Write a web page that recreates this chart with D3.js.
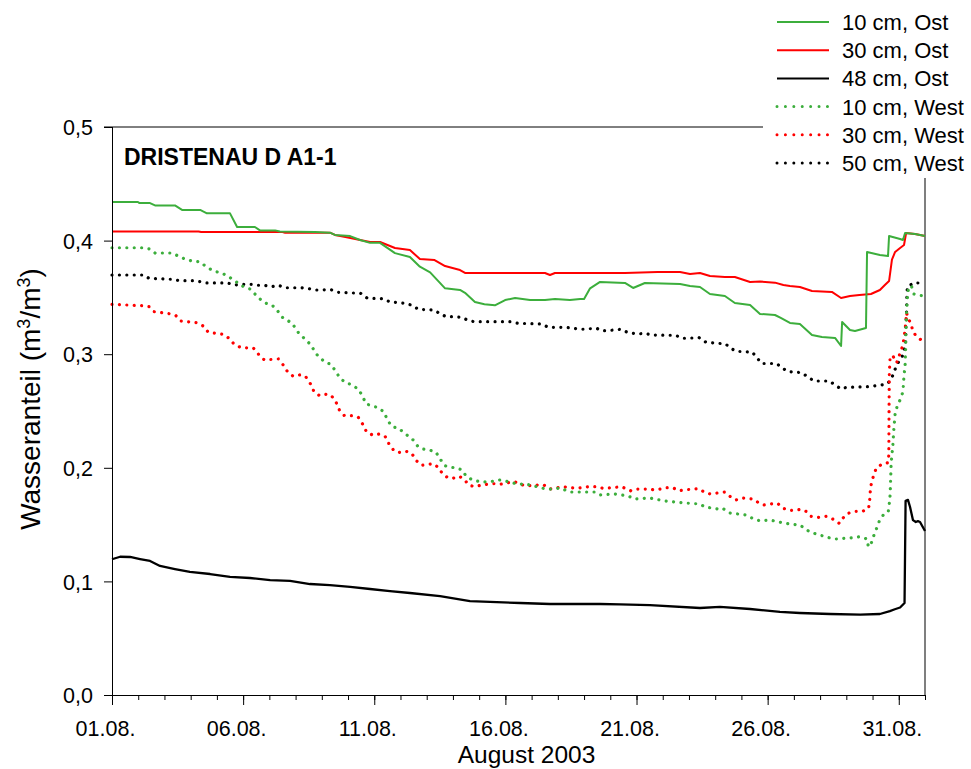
<!DOCTYPE html>
<meta charset="utf-8">
<script src="https://cdn.jsdelivr.net/npm/d3@7"></script>
<style>
  body { margin: 0; background: #fff; }
  text { font-family: Arial, "Liberation Sans", sans-serif; fill: #000; }
</style>
<body>
<div id="chart"></div>
<script>
// time: day of August 2003 (1 = 01.08. 00:00), value: water content (m3/m3)
var ost10Day = [1.00, 1.99, 2.05, 2.45, 2.64, 3.40, 3.67, 4.36, 4.62, 5.50, 5.77, 6.45, 6.64, 7.22, 7.40, 8.74, 9.31, 9.50, 10.08, 10.46, 10.84, 11.22, 11.79, 12.36, 12.74, 13.13, 13.70, 14.27, 14.46, 14.84, 15.20, 15.60, 15.99, 16.37, 16.94, 17.51, 17.89, 18.46, 18.85, 19.00, 19.23, 19.61, 20.56, 20.87, 21.32, 22.66, 23.04, 23.42, 23.80, 24.37, 24.75, 25.33, 25.71, 26.28, 26.50, 26.85, 27.23, 27.69, 28.07, 28.57, 28.80, 28.84, 29.14, 29.33, 29.75, 29.79, 30.28, 30.59, 30.63, 31.05, 31.16, 31.24, 31.62, 32.00];
var ost10Val = [0.434, 0.434, 0.433, 0.433, 0.431, 0.431, 0.427, 0.427, 0.424, 0.424, 0.412, 0.412, 0.409, 0.409, 0.408, 0.4075, 0.407, 0.405, 0.404, 0.4005, 0.398, 0.398, 0.389, 0.3856, 0.377, 0.372, 0.358, 0.3566, 0.354, 0.346, 0.344, 0.343, 0.3477, 0.3495, 0.3477, 0.3477, 0.3486, 0.3477, 0.3486, 0.3486, 0.358, 0.3636, 0.3627, 0.3583, 0.3627, 0.3618, 0.360, 0.3592, 0.353, 0.3512, 0.3451, 0.3433, 0.3354, 0.3345, 0.3319, 0.3275, 0.3266, 0.3169, 0.3151, 0.3143, 0.3072, 0.3283, 0.3213, 0.3204, 0.3231, 0.390, 0.3873, 0.3864, 0.404, 0.4014, 0.4005, 0.4067, 0.4058, 0.404];

var ost30Day = [1.00, 4.30, 4.40, 7.50, 7.60, 9.31, 9.50, 9.90, 10.46, 10.84, 11.22, 11.79, 12.36, 12.74, 13.30, 13.70, 14.27, 14.46, 15.99, 17.51, 17.70, 17.89, 19.61, 20.56, 21.80, 22.66, 23.04, 23.42, 23.80, 24.37, 24.75, 25.33, 25.71, 26.28, 26.60, 26.85, 27.23, 27.69, 28.45, 28.80, 29.14, 29.50, 29.94, 30.28, 30.47, 30.63, 30.74, 30.86, 31.05, 31.20, 31.28, 31.62, 32.00];
var ost30Val = [0.408, 0.408, 0.4075, 0.4075, 0.407, 0.407, 0.405, 0.4032, 0.4005, 0.3988, 0.3988, 0.3935, 0.3917, 0.3838, 0.3829, 0.3776, 0.3741, 0.3715, 0.3715, 0.3715, 0.3697, 0.3715, 0.3715, 0.3715, 0.3724, 0.3724, 0.3706, 0.3715, 0.3688, 0.368, 0.368, 0.3636, 0.364, 0.363, 0.3609, 0.360, 0.3592, 0.3556, 0.3548, 0.3495, 0.3512, 0.3521, 0.353, 0.3565, 0.3609, 0.3644, 0.3832, 0.390, 0.3935, 0.3961, 0.4067, 0.4058, 0.404];

var ost48Day = [1.00, 1.31, 1.69, 2.07, 2.45, 2.83, 3.40, 3.97, 4.74, 5.50, 6.26, 7.03, 7.79, 8.55, 9.31, 10.08, 10.84, 11.60, 12.36, 13.51, 14.65, 15.41, 16.56, 17.70, 19.61, 20.37, 21.51, 23.42, 24.18, 25.33, 26.47, 27.23, 28.38, 29.53, 30.28, 30.66, 30.85, 31.05, 31.22, 31.26, 31.35, 31.43, 31.54, 31.65, 31.73, 31.81, 32.00];
var ost48Val = [0.1195, 0.1217, 0.1215, 0.1197, 0.118, 0.1136, 0.1109, 0.1083, 0.1065, 0.1039, 0.103, 0.1012, 0.1004, 0.0977, 0.0968, 0.0951, 0.0933, 0.0915, 0.0898, 0.0871, 0.0827, 0.0819, 0.081, 0.0801, 0.0801, 0.0797, 0.0792, 0.0766, 0.0775, 0.0757, 0.0731, 0.0722, 0.0713, 0.0708, 0.0713, 0.0739, 0.0755, 0.077, 0.081, 0.171, 0.1717, 0.1655, 0.154, 0.1523, 0.153, 0.1523, 0.1444];

var west10Day = [1.00, 2.14, 2.45, 2.64, 3.29, 3.52, 3.78, 4.05, 4.36, 4.55, 4.81, 5.12, 5.35, 5.58, 5.80, 6.03, 6.26, 6.45, 6.64, 6.83, 7.10, 7.29, 7.52, 7.86, 8.09, 8.28, 8.55, 8.85, 9.12, 9.31, 9.50, 9.69, 9.88, 10.15, 10.38, 10.53, 10.69, 10.95, 11.18, 11.37, 11.52, 11.71, 11.91, 12.48, 12.67, 12.86, 13.09, 13.35, 13.51, 13.70, 13.85, 14.15, 14.35, 14.50, 14.73, 14.92, 15.11, 15.38, 15.60, 15.79, 16.18, 16.44, 16.75, 16.94, 17.55, 17.78, 18.08, 18.46, 18.85, 19.42, 19.61, 20.18, 20.68, 20.94, 21.51, 21.70, 22.09, 22.85, 23.42, 23.61, 24.11, 24.26, 24.57, 24.87, 25.17, 25.40, 25.71, 26.09, 26.43, 26.85, 27.23, 27.61, 27.99, 28.38, 28.61, 29.14, 29.52, 29.79, 29.84, 29.93, 30.03, 30.13, 30.25, 30.41, 30.60, 30.64, 30.67, 30.69, 30.71, 30.77, 30.81, 30.86, 30.94, 31.07, 31.16, 31.20, 31.24, 31.26, 31.27, 31.30, 31.34, 31.39, 31.49, 31.58, 31.81, 32.00];
var west10Val = [0.3937, 0.3937, 0.3926, 0.3891, 0.3891, 0.3865, 0.3838, 0.382, 0.3812, 0.3777, 0.3741, 0.3715, 0.3697, 0.3662, 0.3627, 0.3592, 0.3574, 0.353, 0.3486, 0.3451, 0.3433, 0.3389, 0.3319, 0.3275, 0.3195, 0.3151, 0.309, 0.2984, 0.2931, 0.2914, 0.2861, 0.279, 0.2755, 0.2729, 0.2694, 0.2641, 0.2562, 0.2544, 0.2526, 0.2491, 0.2412, 0.2359, 0.235, 0.2245, 0.2186, 0.2165, 0.2157, 0.2139, 0.2077, 0.2018, 0.2007, 0.1998, 0.1981, 0.1928, 0.1895, 0.1884, 0.1875, 0.1878, 0.1884, 0.1893, 0.1875, 0.1857, 0.1857, 0.1849, 0.1813, 0.1813, 0.1822, 0.1787, 0.1787, 0.1787, 0.1761, 0.1769, 0.1752, 0.1725, 0.1734, 0.1725, 0.1708, 0.169, 0.1681, 0.1655, 0.1637, 0.1646, 0.1602, 0.1593, 0.1585, 0.1558, 0.1532, 0.154, 0.1523, 0.1505, 0.1496, 0.1435, 0.1408, 0.1382, 0.1373, 0.1382, 0.1393, 0.1373, 0.1305, 0.132, 0.1393, 0.1452, 0.1526, 0.1585, 0.1614, 0.1688, 0.1761, 0.1899, 0.2045, 0.2186, 0.2333, 0.2471, 0.2544, 0.2608, 0.267, 0.2817, 0.289, 0.3031, 0.3169, 0.3389, 0.3536, 0.360, 0.3594, 0.353, 0.3518, 0.3512];

var west30Day = [1.00, 2.13, 2.42, 2.61, 3.17, 3.44, 3.64, 4.24, 4.48, 4.67, 5.24, 5.46, 5.66, 5.93, 6.39, 6.59, 6.81, 7.34, 7.53, 7.70, 7.91, 8.21, 8.40, 8.58, 8.71, 8.92, 9.13, 9.35, 9.54, 9.67, 9.86, 10.16, 10.39, 10.58, 10.71, 10.96, 11.19, 11.42, 11.57, 11.76, 11.95, 12.21, 12.43, 12.59, 12.81, 13.25, 13.44, 13.61, 13.82, 14.01, 14.24, 14.42, 14.62, 14.84, 15.06, 15.31, 15.58, 15.79, 16.05, 16.34, 16.56, 16.77, 17.03, 17.45, 17.70, 17.98, 18.19, 18.46, 18.74, 19.19, 19.50, 19.71, 20.11, 20.42, 20.63, 20.78, 21.01, 21.51, 21.68, 21.90, 22.12, 22.38, 22.63, 22.88, 23.37, 23.58, 23.81, 24.07, 24.36, 24.58, 24.79, 25.05, 25.45, 25.68, 25.87, 26.09, 26.37, 26.60, 26.81, 27.05, 27.26, 27.46, 27.65, 27.95, 28.25, 28.50, 28.73, 28.86, 29.07, 29.36, 29.62, 29.85, 29.89, 29.91, 29.95, 30.03, 30.14, 30.36, 30.59, 30.62, 30.63, 30.64, 30.67, 30.77, 30.92, 31.16, 31.24, 31.30, 31.34, 31.47, 31.53, 31.68, 31.86, 32.00];
var west30Val = [0.3439, 0.3427, 0.3418, 0.3374, 0.3357, 0.3339, 0.3292, 0.3277, 0.3248, 0.3193, 0.3175, 0.314, 0.3087, 0.3057, 0.3055, 0.2999, 0.2949, 0.2958, 0.2905, 0.2843, 0.2805, 0.282, 0.2797, 0.2735, 0.2667, 0.2635, 0.2647, 0.2641, 0.2579, 0.2509, 0.2459, 0.2459, 0.2445, 0.2377, 0.2313, 0.2286, 0.2298, 0.2274, 0.2207, 0.2148, 0.2136, 0.2145, 0.2128, 0.2066, 0.2022, 0.2036, 0.2004, 0.1945, 0.191, 0.1908, 0.1925, 0.1899, 0.1846, 0.1834, 0.1846, 0.1855, 0.186, 0.1855, 0.1866, 0.1878, 0.1857, 0.184, 0.1846, 0.1851, 0.1813, 0.1825, 0.1834, 0.1825, 0.182, 0.1834, 0.1834, 0.182, 0.1825, 0.1834, 0.1813, 0.1798, 0.1813, 0.1813, 0.1805, 0.1813, 0.1825, 0.1825, 0.1798, 0.1807, 0.1816, 0.1787, 0.1769, 0.1778, 0.1787, 0.1746, 0.1717, 0.1734, 0.1725, 0.1688, 0.1673, 0.1681, 0.1688, 0.1643, 0.1626, 0.1626, 0.1635, 0.1617, 0.1573, 0.1564, 0.1573, 0.1547, 0.1511, 0.1555, 0.160, 0.1617, 0.1617, 0.1643, 0.1714, 0.1784, 0.1855, 0.1925, 0.1996, 0.2033, 0.2045, 0.2113, 0.2544, 0.2832, 0.2978, 0.2987, 0.2925, 0.3081, 0.3213, 0.3365, 0.3316, 0.3272, 0.3204, 0.3154, 0.3125, 0.3116];

var west50Day = [1.00, 2.22, 2.41, 3.30, 3.59, 4.08, 4.38, 4.61, 5.40, 5.69, 5.98, 6.33, 6.52, 6.80, 7.09, 7.34, 7.60, 8.23, 8.51, 8.77, 9.35, 9.63, 10.48, 10.74, 11.34, 11.60, 12.17, 12.45, 12.68, 13.28, 13.53, 13.74, 14.01, 14.33, 14.55, 14.80, 16.20, 16.49, 17.38, 17.64, 18.27, 18.72, 18.91, 19.48, 19.67, 19.89, 20.40, 20.63, 20.85, 21.07, 21.32, 21.58, 22.49, 22.76, 23.39, 23.65, 24.40, 24.59, 24.82, 25.41, 25.58, 25.77, 26.34, 26.57, 26.80, 27.30, 27.55, 27.77, 28.35, 28.57, 28.80, 29.01, 29.81, 30.26, 30.56, 30.73, 30.83, 30.96, 31.13, 31.20, 31.26, 31.27, 31.30, 31.31, 31.33, 31.58, 31.90, 32.00];
var west50Val = [0.3697, 0.3697, 0.3668, 0.3659, 0.3647, 0.3647, 0.3638, 0.3627, 0.3627, 0.3609, 0.3615, 0.3615, 0.3607, 0.3607, 0.3594, 0.3607, 0.3585, 0.3585, 0.3577, 0.3565, 0.3568, 0.3545, 0.3536, 0.3492, 0.3489, 0.346, 0.3448, 0.343, 0.3395, 0.3389, 0.3354, 0.333, 0.333, 0.3325, 0.3301, 0.3286, 0.3286, 0.3272, 0.3266, 0.3237, 0.3237, 0.3224, 0.3219, 0.3228, 0.3207, 0.3207, 0.3219, 0.3195, 0.3184, 0.3178, 0.3184, 0.3169, 0.3166, 0.314, 0.3145, 0.3105, 0.309, 0.3052, 0.3025, 0.3019, 0.2973, 0.2918, 0.2918, 0.2876, 0.2846, 0.2837, 0.2797, 0.2764, 0.2764, 0.2729, 0.2694, 0.2709, 0.2714, 0.2726, 0.2738, 0.2788, 0.2852, 0.292, 0.2978, 0.3037, 0.3096, 0.3242, 0.3389, 0.353, 0.3594, 0.3629, 0.3624, 0.3627];

var seriesNames = ["10 cm, Ost", "30 cm, Ost", "48 cm, Ost", "10 cm, West", "30 cm, West", "50 cm, West"];
var seriesColors = ["#3cae3c", "#ff0000", "#000000", "#3cae3c", "#ff0000", "#000000"];
var seriesDotted = [false, false, false, true, true, true];
var seriesDays = [ost10Day, ost30Day, ost48Day, west10Day, west30Day, west50Day];
var seriesVals = [ost10Val, ost30Val, ost48Val, west10Val, west30Val, west50Val];

var yTicks = [0, 0.1, 0.2, 0.3, 0.4, 0.5];
var xMajor = [1, 6, 11, 16, 21, 26, 31];

var W = 971, H = 769;
var margin = { top: 127, right: 46, bottom: 74, left: 112 };
var width = W - margin.left - margin.right,
    height = H - margin.top - margin.bottom;

var svg = d3.select("#chart").append("svg")
    .attr("width", W)
    .attr("height", H);

var g = svg.append("g")
    .attr("transform", "translate(" + margin.left + "," + margin.top + ")");

var x = d3.scaleLinear().domain([1, 32]).range([0, width]);
var y = d3.scaleLinear().domain([0, 0.5]).range([height, 0]);

var series = seriesNames.map(function (n, i) {
    return {
        name: n, color: seriesColors[i], dotted: seriesDotted[i],
        points: seriesDays[i].map(function (d, j) { return [d, seriesVals[i][j]]; })
    };
});

var line = d3.line()
    .x(function (d) { return x(d[0]); })
    .y(function (d) { return y(d[1]); });

// frame (top / right)
g.append("line").attr("x1", -8).attr("x2", width).attr("y1", 0).attr("y2", 0)
    .attr("stroke", "#000").attr("stroke-width", 1);
g.append("line").attr("x1", width).attr("x2", width).attr("y1", 0).attr("y2", height)
    .attr("stroke", "#555").attr("stroke-width", 1.5);

// dotted first, then solid on top
var order = [5, 4, 3, 2, 1, 0];
g.append("g").selectAll("path")
    .data(order.map(function (i) { return series[i]; }))
    .enter().append("path")
    .attr("fill", "none")
    .attr("stroke", function (d) { return d.color; })
    .attr("stroke-width", function (d) { return d.dotted ? 3.2 : (d.color === "#000000" ? 2.3 : 2); })
    .attr("stroke-linecap", function (d) { return d.dotted ? "round" : "butt"; })
    .attr("stroke-linejoin", "round")
    .attr("stroke-dasharray", function (d) { return d.dotted ? "0.01 7.4" : null; })
    .attr("d", function (d) { return line(d.points); });

// y axis
var yAxis = g.append("g")
    .call(d3.axisLeft(y).tickValues(yTicks).tickSize(8).tickPadding(11)
        .tickFormat(function (d) { return d3.format(".1f")(d).replace(".", ","); }));
yAxis.select(".domain").attr("stroke", "#000").attr("d", "M0.5," + height + "V0");
yAxis.selectAll("text").style("font-size", "21.5px").attr("dy", "0.36em");

// x axis: minor daily ticks and major 5-day ticks
var xMinor = d3.range(1, 33);
g.append("g")
    .attr("transform", "translate(0," + height + ")")
    .call(d3.axisBottom(x).tickValues(xMinor).tickSize(5).tickFormat(""))
    .select(".domain").remove();
var xAxis = g.append("g")
    .attr("transform", "translate(0," + height + ")")
    .call(d3.axisBottom(x).tickValues(xMajor).tickSize(10).tickPadding(16)
        .tickFormat(function (d) { return (d < 10 ? "0" : "") + d + ".08."; }));
xAxis.select(".domain").attr("d", "M-8,0.5H" + width);
xAxis.selectAll("text").style("font-size", "21.5px").attr("dx", "-7");

// axis titles
g.append("text")
    .attr("x", width / 2 + 8)
    .attr("y", height + 68)
    .attr("text-anchor", "middle")
    .style("font-size", "24.5px")
    .text("August 2003");

var yl = svg.append("text")
    .attr("transform", "translate(40," + (margin.top + height / 2 - 12) + ") rotate(-90)")
    .attr("text-anchor", "middle")
    .style("font-size", "28px");
yl.append("tspan").text("Wasseranteil (m");
yl.append("tspan").attr("dy", "-10").style("font-size", "18px").text("3");
yl.append("tspan").attr("dy", "10").text("/m");
yl.append("tspan").attr("dy", "-10").style("font-size", "18px").text("3");
yl.append("tspan").attr("dy", "10").text(")");

// title
g.append("text")
    .attr("x", 12)
    .attr("y", 38)
    .style("font-size", "23px")
    .style("font-weight", "bold")
    .text("DRISTENAU D A1-1");

// legend
var legend = svg.append("g");
legend.append("rect")
    .attr("x", 763).attr("y", 0).attr("width", W - 763).attr("height", 178)
    .attr("fill", "#fff");
var item = legend.selectAll(".item")
    .data(series)
    .enter().append("g")
    .attr("transform", function (d, i) { return "translate(777," + (22 + i * 28.2) + ")"; });
item.append("line")
    .attr("x1", 0).attr("x2", 52).attr("y1", 0).attr("y2", 0)
    .attr("stroke", function (d) { return d.color; })
    .attr("stroke-width", function (d) { return d.dotted ? 3 : 2; })
    .attr("stroke-linecap", function (d) { return d.dotted ? "round" : "butt"; })
    .attr("stroke-dasharray", function (d) { return d.dotted ? "0.01 8.4" : null; });
item.append("text")
    .attr("x", 65).attr("y", 0).attr("dy", "0.36em")
    .style("font-size", "22px")
    .text(function (d) { return d.name; });
</script>
</body>
